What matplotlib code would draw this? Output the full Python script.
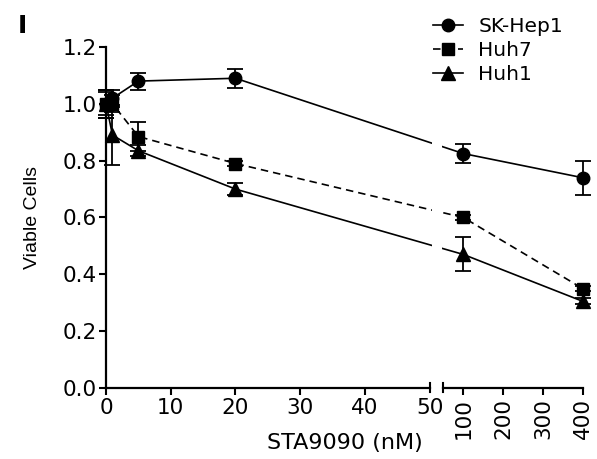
import numpy as np
import matplotlib
matplotlib.use("Agg")
import matplotlib.pyplot as plt
from matplotlib.patches import Rectangle
from matplotlib.lines import Line2D

# ---- data ----
conc = [0, 1, 5, 20, 100, 400]
sk_hep1 = [1.00, 1.02, 1.08, 1.09, 0.825, 0.74]
sk_hep1_err = [0.05, 0.03, 0.03, 0.033, 0.032, 0.06]
huh7 = [1.00, 1.00, 0.885, 0.79, 0.60, 0.35]
huh7_err = [0.05, 0.03, 0.05, 0.01, 0.01, 0.01]
huh1 = [1.00, 0.89, 0.835, 0.70, 0.47, 0.305]
huh1_err = [0.04, 0.105, 0.02, 0.02, 0.06, 0.01]
series_names = ["SK-Hep1", "Huh7", "Huh1"]
xticks = [0, 10, 20, 30, 40, 50, 100, 200, 300, 400]
yticks = [0.0, 0.2, 0.4, 0.6, 0.8, 1.0, 1.2]

# ---- broken x scale (0-50 linear, gap, 50-400 compressed) ----
BREAK = 50.0
GAP = 2.13
K = 0.0615


def fwd(x):
    x = np.asarray(x, dtype=float)
    return np.where(x <= BREAK, x, BREAK + GAP + (x - BREAK) * K)


def inv(y):
    y = np.asarray(y, dtype=float)
    return np.where(y <= BREAK + GAP / 2, np.minimum(y, BREAK), BREAK + (y - BREAK - GAP) / K)


fig = plt.figure(figsize=(5.97, 4.59), dpi=100)
ax = fig.add_axes([0.1776, 0.1547, 0.7985, 0.7429])
ax.set_xscale("function", functions=(fwd, inv))
ax.set_xlim(0, 400)
ax.set_ylim(0, 1.2)

TICKFONT = dict(family="DejaVu Sans", size=15.5)

styles = [dict(marker="o", ms=9, ls="-"),
          dict(marker="s", ms=8.5, ls=(0, (4.5, 3))),
          dict(marker="^", ms=10, ls="-")]
common = dict(color="black", lw=1.2, elinewidth=1.3, capsize=5.5, capthick=1.3)
handles = []
for vals, errs, st, name in zip([sk_hep1, huh7, huh1],
                                [sk_hep1_err, huh7_err, huh1_err],
                                styles, series_names):
    cont = ax.errorbar(conc, vals, yerr=errs, **st, **common)
    for art in cont.get_children():
        art.set_clip_on(False)
    handles.append(Line2D([], [], color="black", lw=1.2, label=name, **st))

# spines
for s in ["top", "right", "bottom"]:
    ax.spines[s].set_visible(False)
ax.spines["left"].set_linewidth(1.6)

ax.set_yticks(yticks)
ax.set_yticklabels([f"{v:.1f}" for v in yticks], fontdict=TICKFONT)
ax.tick_params(axis="y", length=5, width=1.5, pad=1.5)

ax.set_xticks(xticks)
ax.set_xticklabels([str(v) for v in xticks], fontdict=TICKFONT)
ax.tick_params(axis="x", length=5, width=1.5, pad=2)
ax.xaxis.get_major_ticks()[5].tick1line.set_visible(False)
for lab in ax.get_xticklabels()[6:]:
    lab.set_rotation(90)

# gap in axes fraction
total = float(fwd(400))
f1 = BREAK / total
f2 = (BREAK + GAP) / total

# white gap to break the data lines
ax.add_patch(Rectangle((f1 + 0.004, 0.003), (f2 - f1) - 0.008, 0.9,
                       transform=ax.transAxes, facecolor="white",
                       edgecolor="none", zorder=3))

# bottom axis segments with break markers
h = 4.5 / 341
for xa, xb in [(0, f1), (f2, 1)]:
    ax.add_line(Line2D([xa, xb], [0, 0], transform=ax.transAxes, color="black",
                       lw=1.6, clip_on=False, zorder=4))
for xm in [f1, f2]:
    ax.add_line(Line2D([xm, xm], [-h, h], transform=ax.transAxes, color="black",
                       lw=1.5, clip_on=False, zorder=4))

ax.set_xlabel("STA9090 (nM)", family="DejaVu Sans", size=16)
ax.xaxis.set_label_coords(0.5, -0.133)
ax.set_ylabel("Viable Cells", family="Liberation Sans", size=14, labelpad=16)

leg = ax.legend(handles=handles, loc="upper left",
                bbox_to_anchor=(433 / 597, 1 - 17 / 459),
                bbox_transform=fig.transFigure, frameon=False,
                prop=dict(family="DejaVu Sans", size=14.5), borderpad=0,
                borderaxespad=0, handlelength=1.5, handletextpad=0.75,
                labelspacing=0.25)
leg.set_zorder(6)

fig.text(18 / 597, 1 - 33 / 459, "I", family="DejaVu Sans", size=18,
         weight="bold", ha="left", va="baseline")

fig.savefig("out.png", dpi=100)
